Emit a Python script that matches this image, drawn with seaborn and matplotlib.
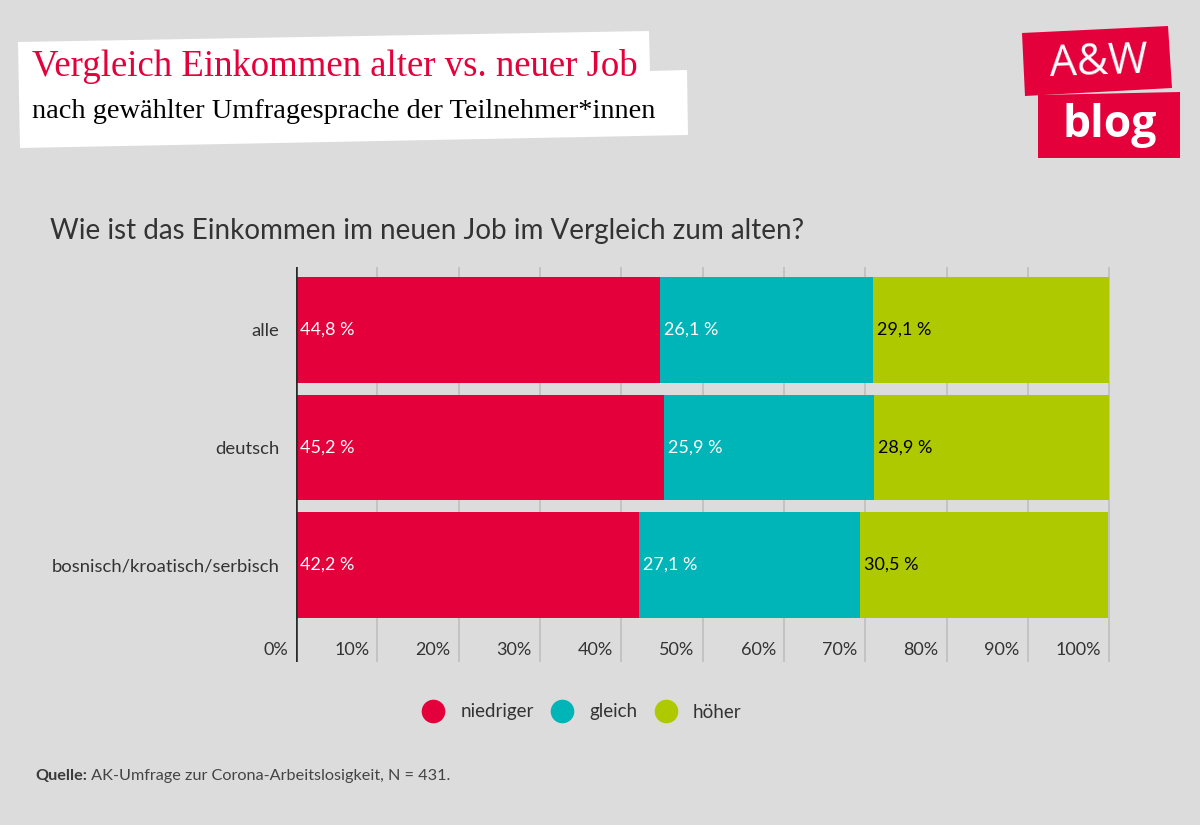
import matplotlib
matplotlib.use("Agg")
import matplotlib.pyplot as plt
import matplotlib.patches as mpatches
from matplotlib.lines import Line2D
import seaborn as sns
import pandas as pd
import numpy as np

# ---- data ----
categories = ["alle", "deutsch", "bosnisch/kroatisch/serbisch"]
niedriger = [44.8, 45.2, 42.2]
gleich = [26.1, 25.9, 27.1]
hoeher = [29.1, 28.9, 30.5]
series_names = ["niedriger", "gleich", "höher"]
tick_values = [0, 10, 20, 30, 40, 50, 60, 70, 80, 90, 100]
tick_labels = ["0%", "10%", "20%", "30%", "40%", "50%", "60%", "70%", "80%", "90%", "100%"]

title = "Vergleich Einkommen alter vs. neuer Job"
subtitle = "nach gewählter Umfragesprache der Teilnehmer*innen"
question = "Wie ist das Einkommen im neuen Job im Vergleich zum alten?"
source_bold = "Quelle:"
source_text = " AK-Umfrage zur Corona-Arbeitslosigkeit, N = 431."

RED = "#e4003b"
TEAL = "#00b5b8"
GREEN = "#afc900"
BG = "#dcdcdc"
TXT = "#333333"
colors = [RED, TEAL, GREEN]

sns.set_theme(style="white")
plt.rcParams["font.family"] = ["Lato", "DejaVu Sans"]
SERIF = "Liberation Serif"

W, H = 1200, 825
fig = plt.figure(figsize=(W / 100, H / 100), dpi=100, facecolor=BG)

def fx(x):
    return x / W

def fy(y):
    return 1 - y / H

ax = fig.add_axes([fx(296), fy(662), fx(1110) - fx(296), fy(267) - fy(662)])
ax.set_facecolor(BG)

df = pd.DataFrame({"cat": categories, "niedriger": niedriger, "gleich": gleich, "hoeher": hoeher})
df["c1"] = df["niedriger"]
df["c2"] = df["niedriger"] + df["gleich"]
df["c3"] = df["niedriger"] + df["gleich"] + df["hoeher"]

# gridlines behind bars
for v in tick_values[1:]:
    ax.axvline(v, color="#bcbcbc", lw=1.1, zorder=0)

for col, c in zip(["c3", "c2", "c1"], [GREEN, TEAL, RED]):
    sns.barplot(data=df, x=col, y="cat", color=c, width=0.895, ax=ax,
                saturation=1, orient="h", zorder=2, linewidth=0, edgecolor="none")

ax.set_xlim(0, 100.1)
ax.set_ylim(2.826, -0.536)
ax.set_xlabel("")
ax.set_ylabel("")
ax.set_xticks([])
ax.set_yticks(range(len(categories)))
ax.set_yticklabels(categories, fontsize=13.3, color=TXT)
ax.tick_params(axis="y", length=0, pad=12)
for s in ax.spines.values():
    s.set_visible(False)
ax.axvline(0, color="#2a2a2a", lw=2.6, zorder=5)

# x tick labels (placed left of gridlines)
for v, lab in zip(tick_values, tick_labels):
    ax.text(v - 1.0, 0.03, lab, transform=ax.get_xaxis_transform(),
            ha="right", va="center", fontsize=13, color=TXT)

# value labels
fmt = lambda v: f"{v:.1f} %".replace(".", ",")
for i in range(len(categories)):
    starts = [0, niedriger[i], niedriger[i] + gleich[i]]
    vals = [niedriger[i], gleich[i], hoeher[i]]
    for j in range(3):
        ax.text(starts[j] + 0.5, i, fmt(vals[j]), ha="left", va="center",
                fontsize=13, color="white" if j < 2 else "black", zorder=6)

# title box
box = mpatches.Polygon([(fx(18), fy(42)), (fx(649), fy(31)), (fx(650), fy(71)),
                        (fx(687), fy(70)), (fx(688), fy(135)), (fx(20), fy(148))],
                       closed=True, transform=fig.transFigure, facecolor="white",
                       edgecolor="none")
fig.patches.append(box)
t1 = fig.text(fx(32), fy(66), title, color=RED, fontsize=28, family=SERIF,
              ha="left", va="center")
t2 = fig.text(fx(32), fy(111), subtitle, color="black", fontsize=20, family=SERIF,
              ha="left", va="center")

# logo
logo1 = mpatches.Polygon([(fx(1022), fy(33)), (fx(1168), fy(26)), (fx(1172), fy(88)),
                          (fx(1025), fy(96))], closed=True, transform=fig.transFigure,
                         facecolor=RED, edgecolor="none")
logo2 = mpatches.Polygon([(fx(1038), fy(95)), (fx(1180), fy(92)), (fx(1180), fy(158)),
                          (fx(1038), fy(158))], closed=True, transform=fig.transFigure,
                         facecolor=RED, edgecolor="none")
fig.patches.extend([logo1, logo2])
fig.text(fx(1099), fy(63), "A&W", color="white", fontsize=31, ha="center", va="center",
         family="Open Sans", rotation=2)
fig.text(fx(1110), fy(126), "blog", color="white", fontsize=32, fontweight="bold",
         ha="center", va="center", family="Open Sans")

fig.canvas.draw()
r = fig.canvas.get_renderer()
for t, target in [(t1, 637 - 32), (t2, 657 - 32)]:
    w = t.get_window_extent(r).width
    t.set_fontsize(t.get_fontsize() * target / w)

# question
fig.text(fx(50), fy(231), question, color=TXT, fontsize=20, ha="left", va="center")

# legend
handles = [Line2D([0], [0], marker="o", color="none", markerfacecolor=c,
                  markeredgecolor="none", markersize=17) for c in colors]
fig.legend(handles, series_names, loc="center", bbox_to_anchor=(fx(578), fy(712)),
           ncol=3, frameon=False, fontsize=13.5, handletextpad=0.45, columnspacing=0.5,
           labelcolor=TXT)

# source
t = fig.text(fx(35), fy(776), source_bold, color="#3a3a3a", fontsize=11.7, fontweight="bold",
             ha="left", va="center")
fig.canvas.draw()
bb = t.get_window_extent()
fig.text(bb.x1 / W, fy(776), source_text, color="#444444", fontsize=11.7, ha="left", va="center")

fig.savefig("out.png", dpi=100, facecolor=BG)
